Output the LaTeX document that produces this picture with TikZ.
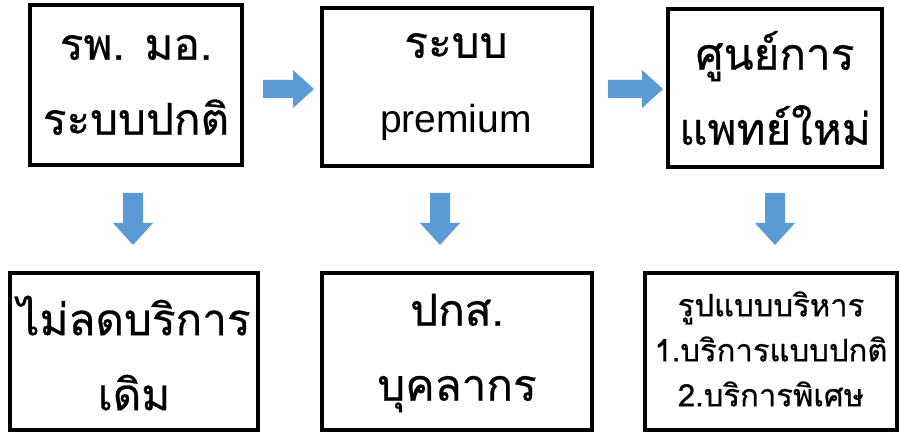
\documentclass[tikz,border=0pt]{standalone}
\usepackage{fontspec}
\newfontfamily\thaifont[Script=Thai,FakeBold=0.6]{Loma}
\newfontfamily\latinfont{Liberation Sans}
\definecolor{arrblue}{HTML}{5B9BD5}
\begin{document}
\begin{tikzpicture}[x=1pt,y=-1pt,
  box/.style={draw=black,line width=3.5pt,inner sep=0pt},
  bigtxt/.style={font=\thaifont\fontsize{44}{75}\selectfont,align=center},
  smalltxt/.style={font=\thaifont\fontsize{31}{45}\selectfont,align=center},
  rarrow/.style={fill=arrblue},
]
\useasboundingbox (0,0) rectangle (900,435);
% boxes
\draw[box] (30,5) rectangle (242,165) node[midway] (b1) {};
\draw[box] (322,8) rectangle (592,166) node[midway] (b2) {};
\draw[box] (668,9) rectangle (882,167) node[midway] (b3) {};
\draw[box] (10,273) rectangle (258,430) node[midway] (b4) {};
\draw[box] (322,273) rectangle (592,430) node[midway] (b5) {};
\draw[box] (645,273) rectangle (897,430) node[midway] (b6) {};
% texts
\node[bigtxt] (t1) at (136,85) {รพ. มอ.\\ระบบปกติ};
\node[bigtxt] (t2) at (456,87) {ระบบ\\{\latinfont\fontsize{39}{75}\selectfont premium}};
\node[bigtxt] (t3) at (775,88) {ศูนย์การ\\แพทย์ใหม่};
\node[bigtxt] (t4) at (134,353) {ไม่ลดบริการ\\เดิม};
\node[bigtxt] (t5) at (457,353) {ปกส.\\บุคลากร};
\node[smalltxt] (t6) at (771,349) {รูปแบบบริหาร\\1.บริการแบบปกติ\\2.บริการพิเศษ};
% right arrows
\fill[rarrow] (263,80) -- (293,80) -- (293,70) -- (314,89) -- (293,108) -- (293,98) -- (263,98) -- cycle;
\fill[rarrow] (608,80) -- (642,80) -- (642,70) -- (663,89) -- (642,108) -- (642,98) -- (608,98) -- cycle;
% down arrows
\foreach \cx in {133,440,775}{
  \fill[rarrow] (\cx-10,193) -- (\cx+10,193) -- (\cx+10,223) -- (\cx+20,223) -- (\cx,245) -- (\cx-20,223) -- (\cx-10,223) -- cycle;
}
\end{tikzpicture}
\end{document}
